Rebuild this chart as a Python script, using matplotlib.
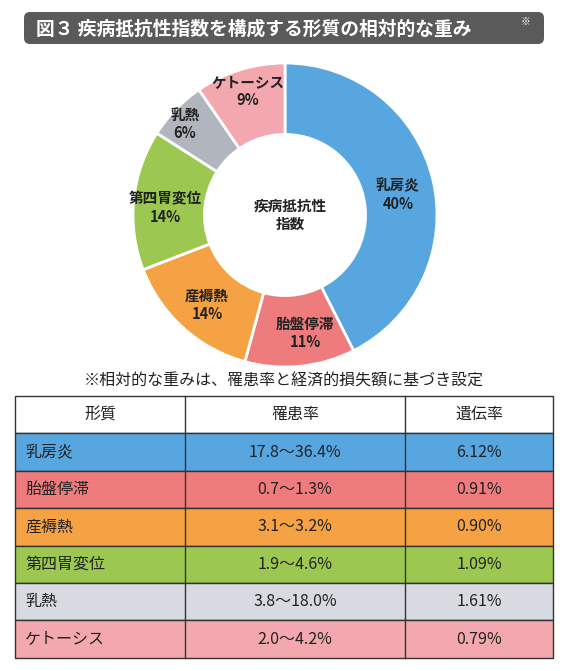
import matplotlib.pyplot as plt
from matplotlib.patches import FancyBboxPatch, Rectangle

plt.rcParams['font.family'] = ['Noto Sans CJK JP', 'DejaVu Sans']

traits = ['乳房炎', '胎盤停滞', '産褥熱', '第四胃変位', '乳熱', 'ケトーシス']
weights = [40, 11, 14, 14, 6, 9]
pie_colors = ['#58a6e0', '#ee7c7d', '#f5a244', '#9cc851', '#b1b5bd', '#f2a8ae']
row_colors = ['#58a6e0', '#ee7c7d', '#f5a244', '#9cc851', '#d7dae1', '#f2a8ae']
incidence = ['17.8〜36.4%', '0.7〜1.3%', '3.1〜3.2%', '1.9〜4.6%', '3.8〜18.0%', '2.0〜4.2%']
heritability = ['6.12%', '0.91%', '0.90%', '1.09%', '1.61%', '0.79%']
headers = ['形質', '罹患率', '遺伝率']
label_pos = [(398, 195), (305, 333), (207, 305), (165, 208), (185, 124), (248, 91)]

W, H = 568, 671
fig = plt.figure(figsize=(W / 100, H / 100), dpi=100)

# donut
cx, cy, r = 285, 215, 152
pax = fig.add_axes([(cx - r) / W, 1 - (cy + r) / H, 2 * r / W, 2 * r / H])
pax.pie(weights, colors=pie_colors, startangle=90, counterclock=False,
        wedgeprops=dict(width=0.47, edgecolor='white', linewidth=2))
pax.set_aspect('auto')
pax.set_xlim(-1, 1)
pax.set_ylim(-1, 1)
pax.axis('off')

ax = fig.add_axes([0, 0, 1, 1], facecolor='none')
ax.set_xlim(0, W)
ax.set_ylim(H, 0)
ax.axis('off')

# title bar
ax.add_patch(FancyBboxPatch((24, 12), 520, 32, boxstyle='round,pad=0,rounding_size=6',
                            facecolor='#5a5a5a', edgecolor='none'))
ax.text(36, 29, '図３ 疾病抵抗性指数を構成する形質の相対的な重み', color='white',
        fontsize=13.5, fontweight='bold', va='center', ha='left')
ax.text(521, 22, '※', color='white', fontsize=7, va='center', ha='left')

for name, w, (x, y) in zip(traits, weights, label_pos):
    ax.text(x, y, f'{name}\n{w}%', ha='center', va='center', fontsize=10.5,
            fontweight='bold', color='#222222', linespacing=1.2)
ax.text(290, 215, '疾病抵抗性\n指数', ha='center', va='center', fontsize=10.5,
        fontweight='bold', color='#222222', linespacing=1.2)

ax.text(284, 381, '※相対的な重みは、罹患率と経済的損失額に基づき設定', ha='center',
        va='center', fontsize=11.5, color='#222222')

# table
x0, x1, x2, x3 = 15, 185, 405, 553
ytop, rh = 396, 37.4
colx = [(x0, x1), (x1, x2), (x2, x3)]
for i in range(7):
    y = ytop + i * rh
    fc = 'white' if i == 0 else row_colors[i - 1]
    ax.add_patch(Rectangle((x0, y), x3 - x0, rh, facecolor=fc, edgecolor='#333333', lw=1))
    if i == 0:
        cells = headers
    else:
        cells = [traits[i - 1], incidence[i - 1], heritability[i - 1]]
    for j, ((a, b), txt) in enumerate(zip(colx, cells)):
        if j == 0 and i > 0:
            ax.text(a + 10, y + rh / 2, txt, ha='left', va='center', fontsize=11.5, color='#222222')
        else:
            ax.text((a + b) / 2, y + rh / 2, txt, ha='center', va='center', fontsize=11.5, color='#222222')
for xv in (x1, x2):
    ax.plot([xv, xv], [ytop, ytop + 7 * rh], color='#333333', lw=1)

fig.savefig('out.png', dpi=100)
